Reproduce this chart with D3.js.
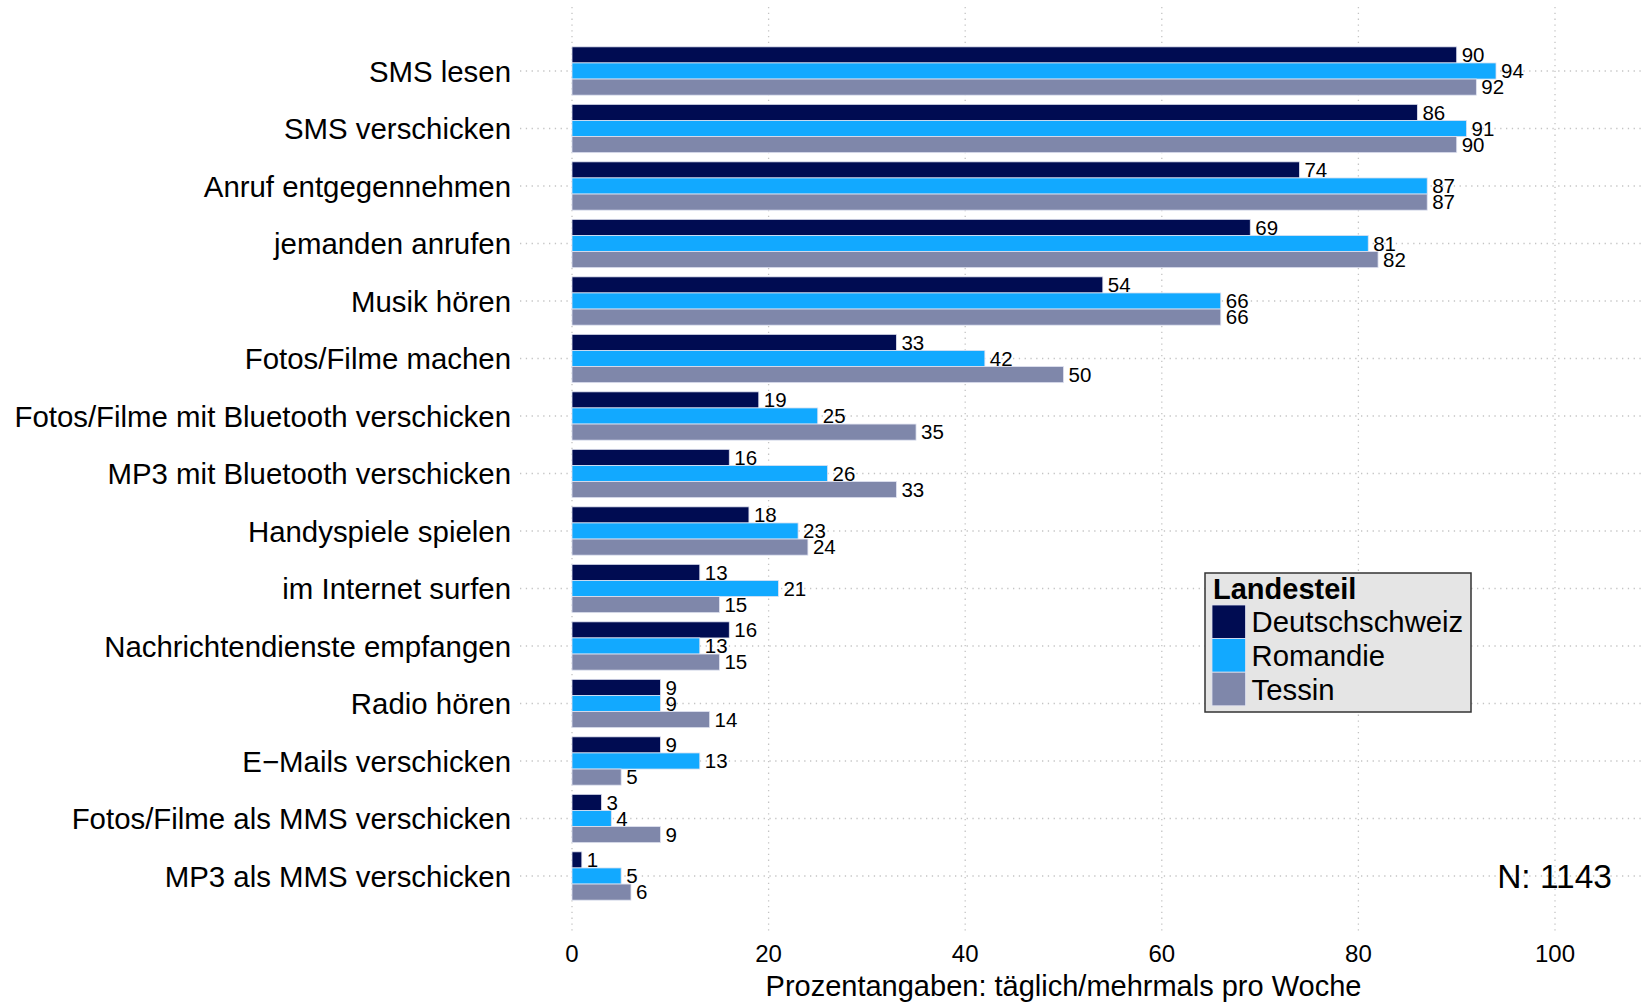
<!DOCTYPE html>
<html>
<head>
<meta charset="utf-8">
<script src="https://cdn.jsdelivr.net/npm/d3@7"></script>
<style>
  body { margin: 0; background: #fff; }
  svg { font-family: "Liberation Sans", Arial, sans-serif; }
</style>
</head>
<body>
<svg id="chart"></svg>
<script>
// data (percent, rounded)
const categories = [
  "SMS lesen",
  "SMS verschicken",
  "Anruf entgegennehmen",
  "jemanden anrufen",
  "Musik hören",
  "Fotos/Filme machen",
  "Fotos/Filme mit Bluetooth verschicken",
  "MP3 mit Bluetooth verschicken",
  "Handyspiele spielen",
  "im Internet surfen",
  "Nachrichtendienste empfangen",
  "Radio hören",
  "E\u2212Mails verschicken",
  "Fotos/Filme als MMS verschicken",
  "MP3 als MMS verschicken"
];
const regions = ["Deutschschweiz", "Romandie", "Tessin"];
const deutschschweiz = [90, 86, 74, 69, 54, 33, 19, 16, 18, 13, 16, 9, 9, 3, 1];
const romandie       = [94, 91, 87, 81, 66, 42, 25, 26, 23, 21, 13, 9, 13, 4, 5];
const tessin         = [92, 90, 87, 82, 66, 50, 35, 33, 24, 15, 15, 14, 5, 9, 6];
const xTicks = [0, 20, 40, 60, 80, 100];
const legendTitle = "Landesteil";
const axisTitle = "Prozentangaben: täglich/mehrmals pro Woche";
const sampleNote = "N: 1143";

const width = 1645, height = 1003;
const panel = {left: 520, right: 1645, top: 7, bottom: 935};

const series = [deutschschweiz, romandie, tessin];
const rows = categories.map((c, i) => ({
  category: c,
  values: regions.map((r, j) => ({region: r, value: series[j][i]}))
}));

const color = d3.scaleOrdinal()
  .domain(regions)
  .range(["#000c52", "#12a9ff", "#7f87aa"]);

const svg = d3.select("#chart")
  .attr("width", width)
  .attr("height", height);

const x = d3.scaleLinear().domain([0, 100]).range([572, 1555]);

const y = d3.scaleBand()
  .domain(categories)
  .range([42.25, 904.75])
  .paddingInner(0.16)
  .paddingOuter(0.08);

const inner = d3.scaleBand()
  .domain(regions)
  .range([0, y.bandwidth()]);

// grid
const grid = svg.append("g")
  .attr("stroke", "#c4c4c4")
  .attr("stroke-width", 1.3)
  .attr("stroke-dasharray", "1.3 4.5");

grid.selectAll("line.v")
  .data(xTicks)
  .join("line")
  .attr("class", "v")
  .attr("x1", d => x(d)).attr("x2", d => x(d))
  .attr("y1", panel.top).attr("y2", panel.bottom);

grid.selectAll("line.h")
  .data(categories)
  .join("line")
  .attr("class", "h")
  .attr("x1", panel.left).attr("x2", panel.right)
  .attr("y1", d => y(d) + y.bandwidth() / 2)
  .attr("y2", d => y(d) + y.bandwidth() / 2);

// bars
const group = svg.append("g")
  .selectAll("g")
  .data(rows)
  .join("g")
  .attr("transform", d => `translate(0,${y(d.category)})`);

group.selectAll("rect")
  .data(d => d.values)
  .join("rect")
  .attr("x", x(0))
  .attr("y", d => inner(d.region))
  .attr("width", d => x(d.value) - x(0))
  .attr("height", inner.bandwidth())
  .attr("fill", d => color(d.region))
  .attr("stroke", "#dfe2f0")
  .attr("stroke-width", 0.8);

group.selectAll("text")
  .data(d => d.values)
  .join("text")
  .attr("x", d => x(d.value) + 5)
  .attr("y", d => inner(d.region) + inner.bandwidth() / 2)
  .attr("dy", "0.36em")
  .style("font-size", "20.5px")
  .attr("fill", "#000")
  .text(d => d.value);

// category labels
svg.append("g")
  .selectAll("text")
  .data(categories)
  .join("text")
  .attr("x", 511)
  .attr("y", d => y(d) + y.bandwidth() / 2)
  .attr("dy", "0.36em")
  .attr("text-anchor", "end")
  .style("font-size", "29.4px")
  .text(d => d);

// x tick labels
svg.append("g")
  .selectAll("text")
  .data(xTicks)
  .join("text")
  .attr("x", d => x(d))
  .attr("y", 953)
  .attr("dy", "0.36em")
  .attr("text-anchor", "middle")
  .style("font-size", "24px")
  .text(d => d);

svg.append("text")
  .attr("x", x(50))
  .attr("y", 986)
  .attr("dy", "0.36em")
  .attr("text-anchor", "middle")
  .style("font-size", "29px")
  .text(axisTitle);

// sample size note
svg.append("text")
  .attr("x", 1612)
  .attr("y", y(categories[categories.length - 1]) + y.bandwidth() / 2)
  .attr("dy", "0.36em")
  .attr("text-anchor", "end")
  .style("font-size", "33.5px")
  .text(sampleNote);

// legend
const KEY = 33.6;
const legend = svg.append("g").attr("transform", "translate(1205,573)");

legend.append("rect")
  .attr("width", 266)
  .attr("height", 139)
  .attr("fill", "#e5e5e5")
  .attr("stroke", "#333")
  .attr("stroke-width", 1.5);

legend.append("text")
  .attr("x", 8)
  .attr("y", 26)
  .style("font-size", "29px")
  .style("font-weight", "bold")
  .text(legendTitle);

const item = legend.selectAll("g.item")
  .data(regions)
  .join("g")
  .attr("class", "item")
  .attr("transform", (d, i) => `translate(7,${32 + i * KEY})`);

item.append("rect")
  .attr("width", KEY)
  .attr("height", KEY)
  .attr("fill", d => color(d))
  .attr("stroke", "#dfe2f0")
  .attr("stroke-width", 0.8);

item.append("text")
  .attr("x", KEY + 6)
  .attr("y", KEY / 2)
  .attr("dy", "0.36em")
  .style("font-size", "29.3px")
  .text(d => d);
</script>
</body>
</html>
